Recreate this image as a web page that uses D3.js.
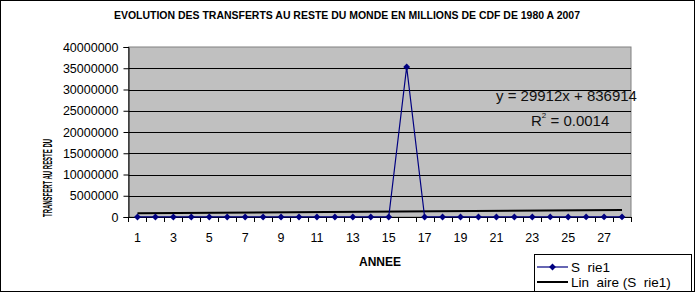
<!DOCTYPE html>
<html>
<head>
<meta charset="utf-8">
<script src="https://cdn.jsdelivr.net/npm/d3@7"></script>
<style>
  body { margin: 0; background: #fff; }
  svg { display: block; font-family: "Liberation Sans", Arial, sans-serif; }
</style>
</head>
<body>
<div id="chart"></div>
<script>
// data
let years = d3.range(1, 29);
let values = [12000, 9000, 8000, 10000, 11000, 7000, 9000, 8000, 10000, 9000,
              11000, 10000, 12000, 9000, 10000, 35300000, 9000, 10000, 11000, 12000,
              10000, 11000, 12000, 13000, 12000, 14000, 13000, 15000];
let yTicks = [0, 5000000, 10000000, 15000000, 20000000, 25000000, 30000000, 35000000, 40000000];
let xLabels = [1, 3, 5, 7, 9, 11, 13, 15, 17, 19, 21, 23, 25, 27];
let trendSlope = 29912;
let trendIntercept = 836914;
let trendText = "y = 29912x + 836914";
let r2Text = "0.0014";

let width = 695, height = 292;
let plot = {left: 128.5, right: 631, top: 47, bottom: 217};

let svg = d3.select("#chart").append("svg")
    .attr("width", width)
    .attr("height", height);

svg.append("rect")
    .attr("x", 0.5).attr("y", 0.5)
    .attr("width", width - 1).attr("height", height - 1)
    .attr("fill", "#fff").attr("stroke", "#000");

// scales
let x = d3.scaleBand().domain(years).range([plot.left, plot.right]);
let y = d3.scaleLinear().domain([0, 40000000]).range([plot.bottom, plot.top]);
let cx = d => x(d) + x.bandwidth() / 2;

// plot area
svg.append("rect")
    .attr("x", plot.left).attr("y", plot.top)
    .attr("width", plot.right - plot.left).attr("height", plot.bottom - plot.top)
    .attr("fill", "#c0c0c0").attr("stroke", "#808080");

// gridlines
svg.append("g")
    .selectAll("line")
    .data(yTicks.filter(d => d > 0 && d < 40000000))
    .join("line")
    .attr("x1", plot.left).attr("x2", plot.right)
    .attr("y1", d => Math.round(y(d)) + 0.5).attr("y2", d => Math.round(y(d)) + 0.5)
    .attr("stroke", "#000");

// y axis
let yAxis = svg.append("g")
    .attr("transform", "translate(" + plot.left + ",0)")
    .call(d3.axisLeft(y).tickValues(yTicks).tickSize(5).tickPadding(5).tickFormat(d3.format("d")));
yAxis.select(".domain").attr("stroke", "#000");
yAxis.selectAll("text").attr("font-size", 12.5).attr("fill", "#000")
    .attr("font-family", "Liberation Sans, Arial, sans-serif");

// x axis
let xAxis = svg.append("g")
    .attr("transform", "translate(0," + plot.bottom + ")");
xAxis.append("line")
    .attr("x1", plot.left).attr("x2", plot.right)
    .attr("y1", 0.5).attr("y2", 0.5)
    .attr("stroke", "#000");
let bounds = years.map(d => x(d)).concat([plot.right]);
xAxis.selectAll(".tk")
    .data(bounds)
    .join("line")
    .attr("class", "tk")
    .attr("x1", d => Math.round(d) + 0.5).attr("x2", d => Math.round(d) + 0.5)
    .attr("y1", 0).attr("y2", 5)
    .attr("stroke", "#000");
xAxis.selectAll(".lbl")
    .data(xLabels)
    .join("text")
    .attr("class", "lbl")
    .attr("x", d => cx(d))
    .attr("y", 25)
    .attr("text-anchor", "middle")
    .attr("font-size", 12.5)
    .text(d => d);

// trend line
svg.append("line")
    .attr("x1", cx(1)).attr("x2", cx(28))
    .attr("y1", y(trendIntercept + trendSlope * 1))
    .attr("y2", y(trendIntercept + trendSlope * 28))
    .attr("stroke", "#000").attr("stroke-width", 2);

// series line
svg.append("path")
    .datum(values)
    .attr("fill", "none")
    .attr("stroke", "#000080")
    .attr("stroke-width", 1.2)
    .attr("d", d3.line().x((d, i) => cx(years[i])).y(d => y(d)));

let diamond = d3.symbol().type(d3.symbolDiamond2).size(30);
svg.append("g")
    .selectAll("path")
    .data(values)
    .join("path")
    .attr("transform", (d, i) => "translate(" + cx(years[i]) + "," + y(d) + ")")
    .attr("d", diamond)
    .attr("fill", "#000080");

// trend equation
svg.append("text")
    .attr("x", 496).attr("y", 101)
    .attr("font-size", 15).attr("fill", "#111")
    .text(trendText);
let r2 = svg.append("text")
    .attr("x", 531).attr("y", 126)
    .attr("font-size", 15).attr("fill", "#111");
r2.append("tspan").text("R");
r2.append("tspan").attr("font-size", 8).attr("dy", -8).text("2");
r2.append("tspan").attr("dy", 8).text(" = " + r2Text);

// titles
svg.append("text")
    .attr("x", 347).attr("y", 19)
    .attr("text-anchor", "middle")
    .attr("font-size", 10).attr("font-weight", "bold")
    .attr("textLength", 466).attr("lengthAdjust", "spacingAndGlyphs")
    .text("EVOLUTION DES TRANSFERTS AU RESTE DU MONDE EN MILLIONS DE CDF DE 1980 A 2007");

svg.append("text")
    .attr("x", 380).attr("y", 266)
    .attr("text-anchor", "middle")
    .attr("font-size", 12).attr("font-weight", "bold")
    .text("ANNEE");

svg.append("text")
    .attr("transform", "translate(52,178) rotate(-90)")
    .attr("text-anchor", "middle")
    .attr("font-size", 13).attr("font-weight", "bold")
    .attr("textLength", 78).attr("lengthAdjust", "spacingAndGlyphs")
    .text("TRANSFERT AU RESTE DU");

// legend
let legend = svg.append("g");
legend.append("rect")
    .attr("x", 534.5).attr("y", 254.5)
    .attr("width", 157).attr("height", 40)
    .attr("fill", "#fff").attr("stroke", "#000");
legend.append("line")
    .attr("x1", 537).attr("x2", 568).attr("y1", 267).attr("y2", 267)
    .attr("stroke", "#000080").attr("stroke-width", 1.2);
legend.append("path")
    .attr("transform", "translate(552.5,267)")
    .attr("d", diamond)
    .attr("fill", "#000080");
legend.append("text")
    .attr("x", 571).attr("y", 272)
    .attr("font-size", 13.5)
    .style("white-space", "pre")
    .text("S  rie1");
legend.append("line")
    .attr("x1", 537).attr("x2", 568).attr("y1", 282).attr("y2", 282)
    .attr("stroke", "#000").attr("stroke-width", 2);
legend.append("text")
    .attr("x", 571).attr("y", 287)
    .attr("font-size", 13.5)
    .style("white-space", "pre")
    .text("Lin  aire (S  rie1)");

svg.append("rect")
    .attr("x", 0.5).attr("y", 0.5)
    .attr("width", width - 1).attr("height", height - 1)
    .attr("fill", "none").attr("stroke", "#000");
</script>
</body>
</html>
